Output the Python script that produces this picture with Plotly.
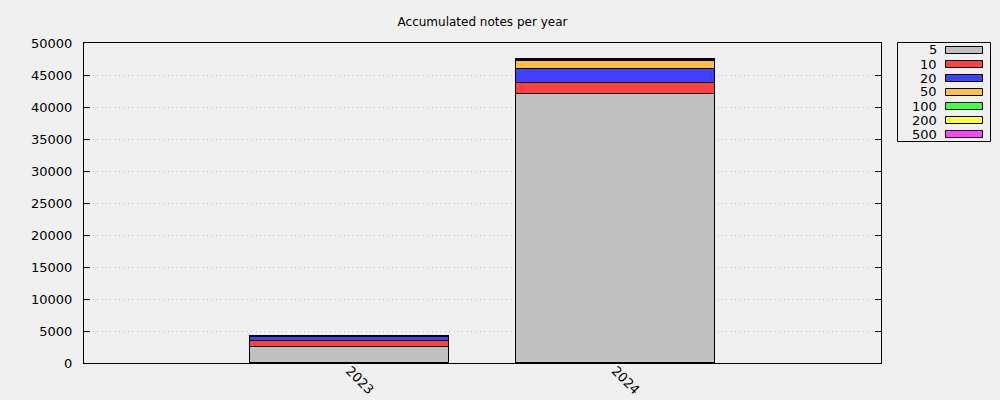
import plotly.graph_objects as go

years = ["2023", "2024"]
denoms = ["5", "10", "20", "50", "100", "200", "500"]
values = {
    "5":   [2550, 42000],
    "10":  [840, 1700],
    "20":  [620, 2190],
    "50":  [150, 1250],
    "100": [50, 200],
    "200": [30, 100],
    "500": [20, 60],
}
colors = ["#c0c0c0", "#ff4040", "#4040ff", "#ffc040", "#40ff40", "#ffff40", "#ff40ff"]
yticks = [0, 5000, 10000, 15000, 20000, 25000, 30000, 35000, 40000, 45000, 50000]

FONT = "DejaVu Sans"
fig = go.Figure()
for d, c in zip(denoms, colors):
    fig.add_trace(go.Bar(
        x=[0, 1], y=values[d], name=d, width=0.75,
        marker=dict(color=c, line=dict(color="black", width=1)),
        showlegend=False,
    ))

# plot area geometry (pixels)
L, R, T, B = 84, 881, 43, 363
W, H = R - L, B - T
def px(x): return (x - L) / W
def py(y): return (B - y) / H

shapes = []
annotations = []
# legend box
shapes.append(dict(type="rect", xref="paper", yref="paper",
                   x0=px(897.5), x1=px(990.5), y0=py(141.5), y1=py(42.5),
                   line=dict(color="black", width=1), fillcolor="rgba(0,0,0,0)"))
for i, (d, c) in enumerate(zip(denoms, colors)):
    yc = 50 + 14 * i
    shapes.append(dict(type="rect", xref="paper", yref="paper",
                       x0=px(945.5), x1=px(982.5), y0=py(yc + 3.5), y1=py(yc - 3.5),
                       line=dict(color="black", width=1), fillcolor=c))
    annotations.append(dict(xref="paper", yref="paper", x=px(939), y=py(yc),
                            text=d, showarrow=False, xanchor="right", yanchor="middle",
                            font=dict(family=FONT, size=13, color="black")))

fig.update_layout(
    width=1000, height=400,
    margin=dict(l=L, r=1000 - R, t=T, b=400 - B, pad=0, autoexpand=False),
    paper_bgcolor="#f0f0f0", plot_bgcolor="#f0f0f0",
    barmode="stack", bargap=0,
    font=dict(family=FONT, size=13, color="black"),
    title=dict(text="Accumulated notes per year", x=px(482.5), xref="paper",
               y=1 - 22 / 400, yanchor="middle", xanchor="center",
               font=dict(family=FONT, size=12, color="black")),
    xaxis=dict(range=[-1, 2], tickvals=[0, 1], ticktext=years, tickangle=45,
               showline=True, mirror=True, linecolor="black", linewidth=1,
               showgrid=False, zeroline=False, ticks="", ticklabelstandoff=-6,
               automargin=False),
    yaxis=dict(range=[0, 50000], tickvals=yticks, ticktext=[str(v) for v in yticks],
               showline=True, mirror="ticks", linecolor="black", linewidth=1,
               ticks="inside", ticklen=6, tickcolor="black",
               showgrid=True, gridcolor="#c4c4c4", griddash="1px,3.4px", gridwidth=1,
               zeroline=False, automargin=False, ticklabelstandoff=8),
    shapes=shapes, annotations=annotations,
    showlegend=False,
)
fig.write_html("out.html")
